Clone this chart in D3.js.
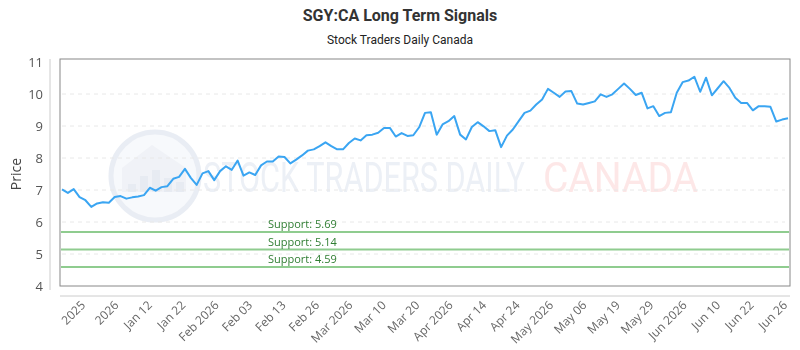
<!DOCTYPE html>
<html>
<head>
<meta charset="utf-8">
<script src="https://cdn.jsdelivr.net/npm/d3@7"></script>
<style>
    body { margin: 0; background: #fff; }
    svg { display: block; font-family: "Open Sans", Roboto, sans-serif; }
</style>
</head>
<body>
<svg id="chart" width="800" height="350"></svg>
<script>
const TITLE = "SGY:CA Long Term Signals";
const SUBTITLE = "Stock Traders Daily Canada";

// closing prices, one per session
const prices = [
    7.02, 6.91, 7.03, 6.78, 6.68, 6.47, 6.58, 6.62, 6.60, 6.78, 6.81, 6.73, 6.77, 6.80, 6.84, 7.07, 6.98, 7.09, 7.12, 7.35, 7.41,
    7.66, 7.38, 7.16, 7.52, 7.59, 7.31, 7.59, 7.74, 7.63, 7.92, 7.45, 7.55, 7.47, 7.77, 7.89, 7.89, 8.05, 8.03, 7.83, 7.95, 8.08,
    8.23, 8.27, 8.37, 8.49, 8.37, 8.27, 8.27, 8.47, 8.61, 8.55, 8.71, 8.73, 8.79, 8.94, 8.94, 8.67, 8.78, 8.69, 8.71, 8.96,
    9.41, 9.43, 8.73, 9.05, 9.15, 9.31, 8.73, 8.58, 8.97, 9.12, 8.99, 8.84, 8.87, 8.34, 8.70, 8.89, 9.15, 9.41, 9.48, 9.67, 9.83,
    10.16, 10.04, 9.91, 10.08, 10.09, 9.70, 9.67, 9.72, 9.77, 9.99, 9.91, 9.99, 10.16, 10.33, 10.16, 9.97, 10.04, 9.55, 9.62, 9.31, 9.41,
    9.43, 10.04, 10.37, 10.42, 10.54, 10.07, 10.51, 9.96, 10.18, 10.40, 10.19, 9.88, 9.72, 9.72, 9.49, 9.62, 9.62, 9.60, 9.14, 9.20, 9.24
];

const xLabels = ["2025", "2026", "Jan 12", "Jan 22", "Feb 2026", "Feb 03", "Feb 13", "Feb 26",
    "Mar 2026", "Mar 10", "Mar 20", "Apr 2026", "Apr 14", "Apr 24", "May 2026", "May 06",
    "May 19", "May 29", "Jun 2026", "Jun 10", "Jun 22", "Jun 26"];

const yTicks = [4, 5, 6, 7, 8, 9, 10, 11];
const supports = [5.69, 5.14, 4.59];

const SVG = d3.select("#chart");
const PLOT = { left: 60, right: 790, top: 59, bottom: 286 };

const x = d3.scaleLinear().domain([0, prices.length - 1]).range([62, 788]);
const y = d3.scaleLinear().domain([4, 11]).range([286, 62]);
const xl = d3.scalePoint().domain(xLabels).range([86, 788]);

// titles
SVG.append("text")
    .attr("x", 400).attr("y", 21)
    .attr("text-anchor", "middle")
    .attr("font-family", "Roboto, sans-serif")
    .attr("font-weight", "bold")
    .attr("font-size", 16)
    .attr("fill", "#333")
    .text(TITLE);

SVG.append("text")
    .attr("x", 400).attr("y", 44)
    .attr("text-anchor", "middle")
    .attr("font-family", "Roboto, sans-serif")
    .attr("font-size", 12)
    .attr("fill", "#222")
    .text(SUBTITLE);

// watermark
const wm = SVG.append("g").attr("opacity", 0.55);
wm.append("circle")
    .attr("cx", 155).attr("cy", 176).attr("r", 44)
    .attr("fill", "#f1f4f9").attr("stroke", "#d8dfeb").attr("stroke-width", 5);
wm.append("path")
    .attr("d", "M122,192 L122,168 L152,145 L186,168 L186,192 Z")
    .attr("fill", "#e3e8f1");
[[128, 184, 8], [140, 176, 16], [152, 170, 22], [164, 178, 14], [176, 182, 10]].forEach(b => {
    wm.append("rect").attr("x", b[0]).attr("y", b[1]).attr("width", 8).attr("height", b[2])
        .attr("fill", "#d3dae7");
});
wm.append("text")
    .attr("transform", "translate(203,192) scale(1,1.4)")
    .attr("font-family", "Roboto, sans-serif")
    .attr("font-size", 30)
    .attr("textLength", 322)
    .attr("lengthAdjust", "spacingAndGlyphs")
    .attr("fill", "#dde3ee")
    .text("STOCK TRADERS DAILY");
wm.append("text")
    .attr("transform", "translate(543,192) scale(1,1.4)")
    .attr("font-family", "Roboto, sans-serif")
    .attr("font-size", 30)
    .attr("textLength", 155)
    .attr("lengthAdjust", "spacingAndGlyphs")
    .attr("fill", "#fcd4d4")
    .text("CANADA");

// gridlines
SVG.append("g")
    .selectAll("line")
    .data(yTicks.filter(t => t > 4 && t < 11))
    .join("line")
    .attr("x1", 62).attr("x2", 785)
    .attr("y1", d => y(d)).attr("y2", d => y(d))
    .attr("stroke", "#e8e8e8")
    .attr("stroke-dasharray", "4,4");

// frame
SVG.append("rect")
    .attr("x", PLOT.left).attr("y", PLOT.top)
    .attr("width", PLOT.right - PLOT.left).attr("height", PLOT.bottom - PLOT.top)
    .attr("fill", "none").attr("stroke", "#888");

// outer axis lines
SVG.append("line")
    .attr("x1", 50).attr("x2", 50).attr("y1", 59).attr("y2", 290)
    .attr("stroke", "#ccc");
SVG.append("line")
    .attr("x1", 60).attr("x2", 790).attr("y1", 296).attr("y2", 296)
    .attr("stroke", "#ccc");

// y tick labels
SVG.append("g")
    .selectAll("text")
    .data(yTicks)
    .join("text")
    .attr("x", 43).attr("y", d => y(d) + 5)
    .attr("text-anchor", "end")
    .attr("font-size", 13)
    .attr("fill", "#555")
    .text(d => d);

SVG.append("text")
    .attr("transform", "translate(21,174) rotate(-90)")
    .attr("text-anchor", "middle")
    .attr("font-size", 14)
    .attr("fill", "#444")
    .text("Price");

// x tick labels
SVG.append("g")
    .selectAll("text")
    .data(xLabels)
    .join("text")
    .attr("transform", d => `translate(${xl(d)},306) rotate(-45)`)
    .attr("text-anchor", "end")
    .attr("font-size", 12)
    .attr("fill", "#666")
    .text(d => d);

// support lines
const sup = SVG.append("g");
sup.selectAll("line")
    .data(supports)
    .join("line")
    .attr("x1", PLOT.left + 1).attr("x2", PLOT.right - 1)
    .attr("y1", d => y(d)).attr("y2", d => y(d))
    .attr("stroke", "#8fcc8f")
    .attr("stroke-width", 2);
sup.selectAll("text")
    .data(supports)
    .join("text")
    .attr("x", 268).attr("y", d => y(d) - 4)
    .attr("font-size", 11)
    .attr("fill", "#2f7d32")
    .text(d => `Support: ${d.toFixed(2)}`);

// price line
SVG.append("path")
    .datum(prices)
    .attr("d", d3.line().x((d, i) => x(i)).y(d => y(d)))
    .attr("fill", "none")
    .attr("stroke", "#3aa5f2")
    .attr("stroke-width", 2)
    .attr("stroke-linejoin", "round");
</script>
</body>
</html>
